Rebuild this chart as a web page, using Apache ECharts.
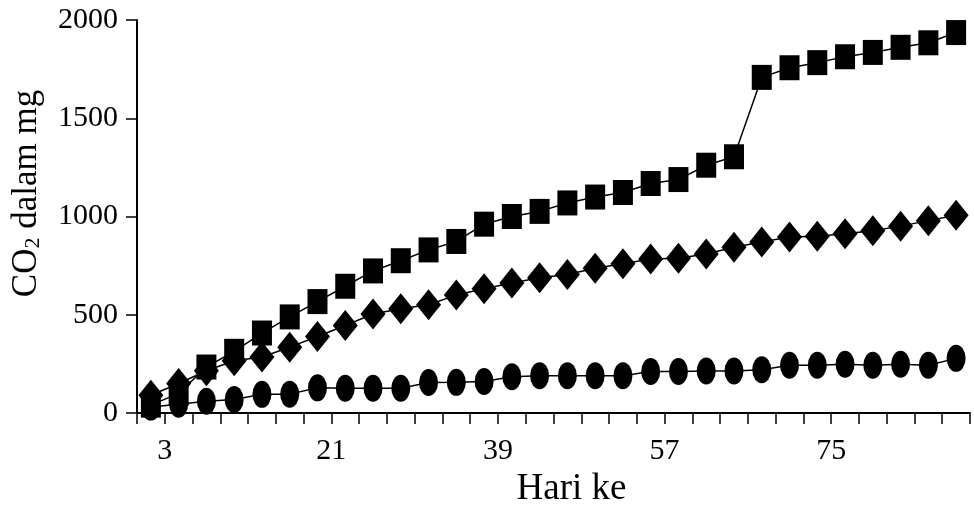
<!DOCTYPE html>
<html>
<head>
<meta charset="utf-8">
<script src="https://cdn.jsdelivr.net/npm/echarts@6/dist/echarts.min.js"></script>
<style>
  html, body { margin: 0; padding: 0; background: #fff; }
  #chart { width: 974px; height: 506px; }
</style>
</head>
<body>
<div id="chart"></div>
<script>
// Day categories (one every 3 days)
var days = [3, 6, 9, 12, 15, 18, 21, 24, 27, 30, 33, 36, 39, 42, 45, 48, 51, 54, 57, 60, 63, 66, 69, 72, 75, 78, 81, 84, 87, 90];
// Shown x tick labels
var xTickLabels = [3, 21, 39, 57, 75];
// Series values (CO2 in mg)
var squareSeries = [40, 100, 234, 314, 407, 489, 567, 645, 723, 775, 830, 873, 961, 1000, 1026, 1069, 1099, 1122, 1168, 1188, 1261, 1304, 1708, 1757, 1783, 1813, 1835, 1861, 1884, 1936];
var diamondSeries = [90, 150, 215, 266, 285, 335, 389, 445, 504, 530, 551, 600, 632, 662, 688, 705, 737, 760, 784, 788, 809, 843, 870, 896, 899, 912, 927, 951, 979, 1006];
var circleSeries = [30, 45, 60, 69, 95, 96, 128, 126, 126, 126, 155, 156, 160, 185, 190, 190, 190, 190, 211, 211, 214, 214, 220, 243, 243, 248, 243, 248, 243, 278];

var FONT = "'Liberation Serif', 'Times New Roman', serif";
var chart = echarts.init(document.getElementById('chart'), null, { renderer: 'canvas' });

function lineSeries(name, data, symbol, size) {
  return {
    name: name,
    type: 'line',
    xAxisIndex: 0,
    yAxisIndex: 0,
    data: data,
    symbol: symbol,
    symbolSize: size,
    showAllSymbol: true,
    lineStyle: { color: '#000', width: 1.5 },
    itemStyle: { color: '#000', borderWidth: 0 },
    emphasis: { disabled: true },
    z: 3
  };
}

chart.setOption({
  animation: false,
  backgroundColor: '#fff',
  grid: { left: 137, right: 4, top: 20, bottom: 93, containLabel: false, outerBoundsMode: 'none' },
  xAxis: [
    {
      type: 'category',
      data: days,
      boundaryGap: true,
      show: false
    },
    {
      type: 'value',
      position: 'bottom',
      min: 0,
      max: 90,
      interval: 3,
      name: 'Hari ke',
      nameLocation: 'middle',
      nameGap: 56,
      nameTextStyle: { fontFamily: FONT, fontSize: 37, color: '#000', padding: [0, 0, 0, 36] },
      axisLine: { show: true, lineStyle: { color: '#000', width: 2 } },
      axisTick: { show: true, inside: false, length: 11, lineStyle: { color: '#000', width: 1.5 } },
      axisLabel: {
        show: true,
        fontFamily: FONT,
        fontSize: 30,
        color: '#000',
        margin: 23,
        showMinLabel: true,
        showMaxLabel: true,
        formatter: function (v) { return xTickLabels.indexOf(v) >= 0 ? String(v) : ''; }
      },
      splitLine: { show: false }
    }
  ],
  yAxis: {
    type: 'value',
    min: 0,
    max: 2000,
    interval: 500,
    name: 'CO{sub|2} dalam mg',
    nameLocation: 'middle',
    nameRotate: 90,
    nameGap: 93,
    nameTextStyle: {
      fontFamily: FONT,
      fontSize: 35,
      color: '#000',
      padding: [0, 0, 0, 46],
      rich: {
        sub: { fontFamily: FONT, fontSize: 22, lineHeight: 16, verticalAlign: 'bottom', color: '#000' }
      }
    },
    axisLine: { show: true, lineStyle: { color: '#000', width: 2 } },
    axisTick: { show: true, inside: false, length: 11, lineStyle: { color: '#000', width: 1.5 } },
    axisLabel: {
      fontFamily: FONT, fontSize: 30, color: '#000', margin: 19,
      formatter: function (v) { return String(v); }
    },
    splitLine: { show: false }
  },
  series: [
    lineSeries('circle', circleSeries, 'path://M0,-14 A10,14 0 1,1 0,14 A10,14 0 1,1 0,-14 Z', [19, 27]),
    lineSeries('diamond', diamondSeries, 'diamond', [25, 31]),
    lineSeries('square', squareSeries, 'rect', [20, 25])
  ]
});
</script>
</body>
</html>
